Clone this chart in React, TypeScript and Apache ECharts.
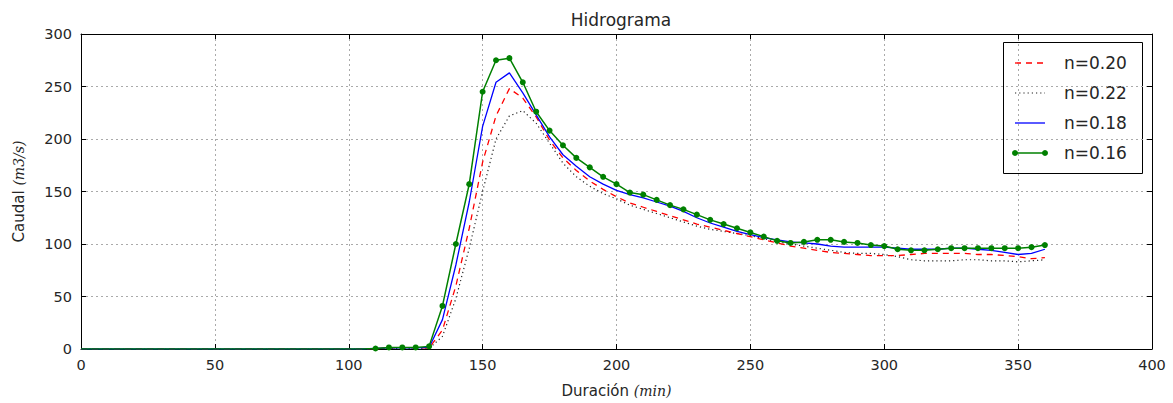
import React, { useEffect, useRef } from "react";
import * as echarts from "echarts";

const time = [
  0, 5, 10, 15, 20, 25, 30, 35, 40, 45, 50, 55, 60, 65, 70, 75, 80, 85, 90, 95, 100, 105,
  110, 115, 120, 125, 130, 135, 140, 145, 150, 155, 160, 165, 170, 175, 180, 185, 190, 195,
  200, 205, 210, 215, 220, 225, 230, 235, 240, 245, 250, 255, 260, 265, 270, 275, 280, 285,
  290, 295, 300, 305, 310, 315, 320, 325, 330, 335, 340, 345, 350, 355, 360,
];

const zeros = [0, 0, 0, 0, 0, 0, 0, 0, 0, 0, 0, 0, 0, 0, 0, 0, 0, 0, 0, 0, 0, 0];

// n=0.20
const q020 = zeros.concat([
  0.3, 1, 1, 1, 1, 18, 60, 115, 178, 222, 248, 239, 221, 199, 182, 170, 160, 152,
  145, 139, 135, 131, 127, 123, 119, 116, 113, 110, 107, 104, 101, 98, 96, 94, 92, 91,
  90, 89, 89, 89, 90, 91, 91, 91, 91, 90, 90, 89, 88, 86, 87,
]);
// n=0.22
const q022 = zeros.concat([
  0.2, 0.5, 0.5, 0.5, 0.5, 12, 48, 96, 150, 200, 222, 227, 215, 196, 177, 164, 155, 148,
  143, 137, 133, 129, 125, 121, 117, 114, 112, 110, 108, 105, 102, 100, 98, 96, 94, 92,
  91, 91, 90, 88, 85, 84, 84, 84, 85, 85, 84, 84, 83, 84, 85,
]);
// n=0.18
const q018 = zeros.concat([
  0.5, 1, 1, 1, 1.5, 28, 80, 140, 212, 254, 263, 244, 223, 202, 185, 174, 164, 157,
  151, 147, 144, 140, 136, 131, 125, 120, 116, 112, 109, 106, 104, 102, 101, 100, 98, 97,
  97, 97, 97, 96, 95, 95, 95, 96, 96, 95, 94, 92, 90, 91, 95,
]);
// n=0.16
const q016 = zeros.concat([
  0.5, 1.5, 1.5, 1.5, 2.5, 41, 100, 157, 245, 275, 277, 254, 226, 208, 194, 182, 173, 164,
  157, 149, 147, 142, 137, 133, 128, 123, 119, 115, 111, 107, 103, 101, 102, 104, 104, 102,
  101, 99, 98, 95, 94, 94, 95, 96, 96, 96, 96, 96, 96, 97, 99,
]);

const seriesNames = ["n=0.20", "n=0.22", "n=0.18", "n=0.16"];

const pairs = (ys: number[]) => time.map((t, i) => [t, ys[i]]);

const FONT = "DejaVu Sans";
const TXT = "#262626";

const styles = [
  { color: "#ff0000", width: 1.3, dash: [6, 5] as number[] | null, dots: false },
  { color: "#222222", width: 1.2, dash: [1.2, 3] as number[] | null, dots: false },
  { color: "#0000ff", width: 1.3, dash: null as number[] | null, dots: false },
  { color: "#008000", width: 1.5, dash: null as number[] | null, dots: true },
];

export default function App() {
  const ref = useRef<HTMLDivElement>(null);
  useEffect(() => {
    if (!ref.current) return;
    const chart = echarts.init(ref.current, null, { renderer: "svg" });
    const axisCommon = {
      type: "value" as const,
      axisLine: { show: true, onZero: false, lineStyle: { color: "#000", width: 1 } },
      axisTick: { show: true, inside: true, length: 5, lineStyle: { color: "#000" } },
    };

    // legend drawn as graphic elements
    const lx = 1003, ly = 42, lw = 139, lh = 131;
    const legendChildren: any[] = [
      {
        type: "rect",
        shape: { x: lx + 0.5, y: ly + 0.5, width: lw, height: lh },
        style: { fill: "#fff", stroke: "#000", lineWidth: 1 },
      },
    ];
    seriesNames.forEach((nm, i) => {
      const s = styles[i];
      const cy = 63 + i * 30;
      legendChildren.push({
        type: "line",
        shape: { x1: 1015, y1: cy, x2: 1045, y2: cy },
        style: { stroke: s.color, lineWidth: s.width, lineDash: s.dash || undefined },
      });
      if (s.dots) {
        legendChildren.push({ type: "circle", shape: { cx: 1015, cy, r: 3 }, style: { fill: s.color } });
        legendChildren.push({ type: "circle", shape: { cx: 1045, cy, r: 3 }, style: { fill: s.color } });
      }
      legendChildren.push({
        type: "text",
        x: 1064,
        y: cy,
        style: {
          text: nm,
          fontFamily: FONT,
          fontSize: 17,
          fill: TXT,
          verticalAlign: "middle",
          align: "left",
        },
      });
    });

    chart.setOption({
      animation: false,
      backgroundColor: "#fff",
      title: {
        text: "Hidrograma",
        left: 616,
        top: 6,
        textAlign: "center",
        textStyle: { fontFamily: FONT, fontSize: 17, fontWeight: "normal", color: TXT },
      },
      grid: { left: 81, right: 21, top: 34, bottom: 54, show: false },
      graphic: [{ type: "group", z: 100, children: legendChildren }],
      xAxis: [
        {
          ...axisCommon,
          min: 0,
          max: 400,
          interval: 50,
          name: "Duración {it|(min)}",
          nameLocation: "middle",
          nameGap: 34,
          nameTextStyle: {
            fontFamily: FONT,
            fontSize: 15,
            color: TXT,
            rich: { it: { fontFamily: "DejaVu Serif", fontStyle: "italic", fontSize: 14, color: TXT } },
          },
          axisLabel: { fontFamily: FONT, fontSize: 14.5, color: TXT, margin: 8 },
          splitLine: { show: true, lineStyle: { color: "#aaa", type: [2, 3], width: 1 } },
        },
        {
          ...axisCommon,
          position: "top",
          min: 0,
          max: 400,
          interval: 50,
          axisLabel: { show: false },
          splitLine: { show: false },
        },
      ],
      yAxis: [
        {
          ...axisCommon,
          min: 0,
          max: 300,
          interval: 50,
          name: "Caudal {it|(m3/s)}",
          nameLocation: "middle",
          nameGap: 55,
          nameTextStyle: {
            fontFamily: FONT,
            fontSize: 15,
            color: TXT,
            rich: { it: { fontFamily: "DejaVu Serif", fontStyle: "italic", fontSize: 14, color: TXT } },
          },
          axisLabel: { fontFamily: FONT, fontSize: 14.5, color: TXT, margin: 9 },
          splitLine: { show: true, lineStyle: { color: "#aaa", type: [2, 3], width: 1 } },
        },
        {
          ...axisCommon,
          position: "right",
          min: 0,
          max: 300,
          interval: 50,
          axisLabel: { show: false },
          splitLine: { show: false },
        },
      ],
      series: [
        {
          name: seriesNames[0],
          type: "line",
          data: pairs(q020),
          symbol: "none",
          lineStyle: { color: styles[0].color, width: styles[0].width, type: styles[0].dash },
          itemStyle: { color: styles[0].color },
          z: 3,
        },
        {
          name: seriesNames[1],
          type: "line",
          data: pairs(q022),
          symbol: "none",
          lineStyle: { color: styles[1].color, width: styles[1].width, type: styles[1].dash },
          itemStyle: { color: styles[1].color },
          z: 2,
        },
        {
          name: seriesNames[2],
          type: "line",
          data: pairs(q018),
          symbol: "none",
          lineStyle: { color: styles[2].color, width: styles[2].width },
          itemStyle: { color: styles[2].color },
          z: 4,
        },
        {
          name: seriesNames[3],
          type: "line",
          data: pairs(q016),
          symbol: "circle",
          symbolSize: (v: number[]) => (v[1] > 0 ? 6 : 0),
          showSymbol: true,
          showAllSymbol: true,
          lineStyle: { color: styles[3].color, width: styles[3].width },
          itemStyle: { color: styles[3].color, borderWidth: 0 },
          z: 5,
        },
      ],
    });
    return () => chart.dispose();
  }, []);
  return (
    <div
      ref={ref}
      style={{ position: "fixed", left: 0, top: 0, width: 1173, height: 403, background: "#fff" }}
    />
  );
}
